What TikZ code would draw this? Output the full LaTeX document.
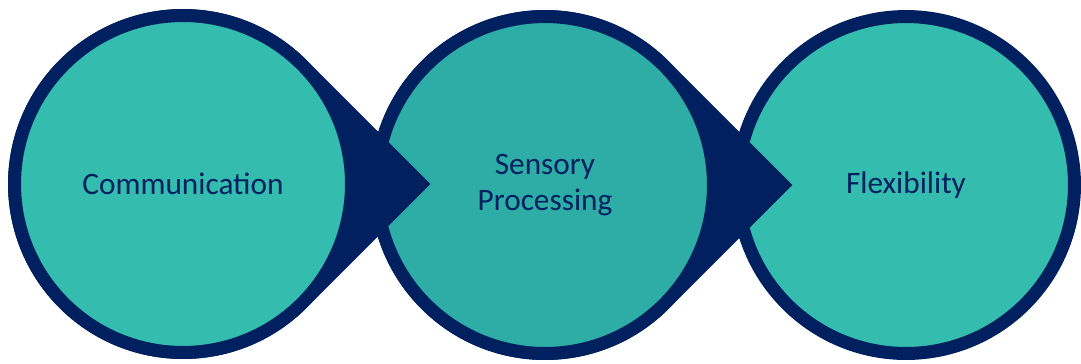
\documentclass[tikz,border=0pt]{standalone}
\usepackage{fontspec}
\setmainfont{Carlito}
\usetikzlibrary{shapes}
\definecolor{navy}{HTML}{002060}
\definecolor{tealA}{HTML}{34BDAE}
\definecolor{tealB}{HTML}{2EADA6}

\begin{document}
\begin{tikzpicture}[x=0.02cm,y=-0.02cm,
 blob/.style={circle,draw=navy,line width=0.26cm,minimum size=6.74cm,inner sep=0pt,
   text=navy,align=center,font=\fontsize{17.8}{20}\selectfont},
 tear/.style={fill=navy}]
\useasboundingbox (0,0) rectangle (1081,363);
\coordinate (c1) at (183,184);
\coordinate (c2) at (545,185);
\coordinate (c3) at (906,185);
% right to left, so each point lies over the next circle
\node[blob,fill=tealA] (flex) at (c3) {Flexibility};
\fill[tear] (c2) ++(45:3.5cm) -- ++(-45:3.5cm) -- ++(-135:3.5cm)
  arc[start angle=-45,delta angle=-270,radius=3.5cm] -- cycle;
\node[blob,fill=tealB] (sens) at (c2) {Sensory\\Processing};
\fill[tear] (c1) ++(45:3.5cm) -- ++(-45:3.5cm) -- ++(-135:3.5cm)
  arc[start angle=-45,delta angle=-270,radius=3.5cm] -- cycle;
\node[blob,fill=tealA] (comm) at (c1) {Communication};
\end{tikzpicture}
\end{document}
